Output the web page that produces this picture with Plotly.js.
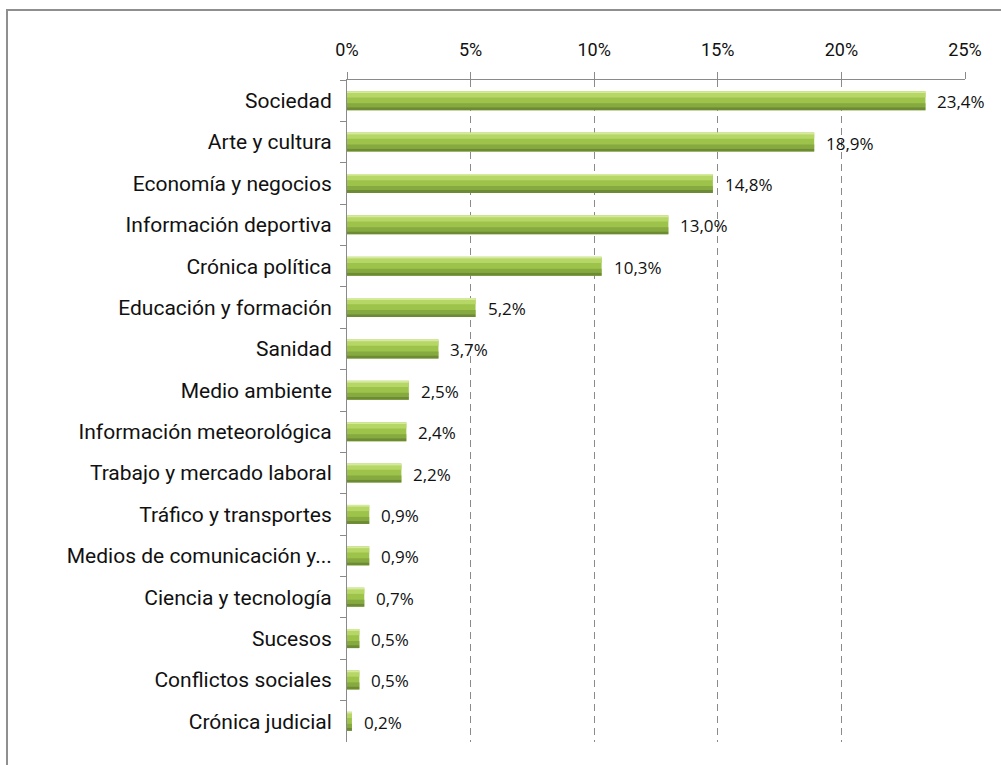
<!DOCTYPE html>
<html>
<head>
<meta charset="utf-8">
<script src="https://cdn.plot.ly/plotly-3.0.1.min.js"></script>
<style>
  html, body { margin: 0; padding: 0; width: 1001px; height: 765px; overflow: hidden; background: #fff; }
  #chart { position: absolute; left: 0; top: 0; width: 1001px; height: 765px; }
  #frame { position: absolute; left: 6px; top: 9px; width: 1100px; height: 900px; border: 2px solid #8f8f8f; pointer-events: none; }
</style>
</head>
<body>
<div id="chart"></div>
<div id="frame"></div>
<script>
const categories = [
  "Sociedad",
  "Arte y cultura",
  "Economía y negocios",
  "Información deportiva",
  "Crónica política",
  "Educación y formación",
  "Sanidad",
  "Medio ambiente",
  "Información meteorológica",
  "Trabajo y mercado laboral",
  "Tráfico y transportes",
  "Medios de comunicación y...",
  "Ciencia y tecnología",
  "Sucesos",
  "Conflictos sociales",
  "Crónica judicial"
];
const values = [23.4, 18.9, 14.8, 13.0, 10.3, 5.2, 3.7, 2.5, 2.4, 2.2, 0.9, 0.9, 0.7, 0.5, 0.5, 0.2];
const tickValues = [0, 5, 10, 15, 20, 25];
const tickLabels = ["0%", "5%", "10%", "15%", "20%", "25%"];

// gradient bands of each bar: [offset, width, colour]
const bands = [
  [-0.23, 0.46, '#9dc34b'],
  [-0.19, 0.11, '#b6d766'],
  [-0.23, 0.045, '#d5eb9b'],
  [0.06, 0.10, '#86a940'],
  [0.16, 0.07, '#6d8b35']
];
const traces = bands.map(b => ({
  type: 'bar', orientation: 'h', x: values, y: categories,
  offset: b[0], width: b[1],
  marker: { color: b[2], line: { width: 0 } },
  hoverinfo: 'skip', showlegend: false
}));

const annotations = values.map((v, i) => ({
  x: v, y: categories[i], xref: 'x', yref: 'y',
  text: v.toFixed(1).replace('.', ',') + '%',
  showarrow: false, xanchor: 'left', yanchor: 'middle', xshift: 10, yshift: -1,
  font: { family: 'Open Sans, sans-serif', size: 17, color: '#111' }
}));

const layout = {
  width: 1001, height: 765,
  margin: { l: 347, r: 36, t: 80, b: 23, pad: 0 },
  paper_bgcolor: '#fff', plot_bgcolor: '#fff',
  barmode: 'overlay',
  separators: ',.',
  font: { family: 'Roboto, sans-serif', color: '#111' },
  xaxis: {
    side: 'top', range: [0, 25], tickvals: tickValues, ticktext: tickLabels,
    showgrid: true, gridcolor: '#8a8a8a', griddash: '7px,5px', gridwidth: 1,
    showline: true, linecolor: '#8a8a8a', linewidth: 1,
    ticks: 'outside', ticklen: 7, tickcolor: '#8a8a8a',
    ticklabelstandoff: 9,
    zeroline: false, fixedrange: true,
    tickfont: { family: 'Roboto, sans-serif', size: 18, color: '#111' }
  },
  yaxis: {
    type: 'category', autorange: 'reversed',
    showline: true, linecolor: '#8a8a8a', linewidth: 1,
    ticks: 'outside', ticklen: 6, tickcolor: '#8a8a8a', tickson: 'boundaries',
    ticklabelstandoff: 10,
    showgrid: false, zeroline: false, fixedrange: true,
    tickfont: { family: 'Roboto, sans-serif', size: 21, color: '#111' }
  },
  annotations: annotations
};

Plotly.newPlot('chart', traces, layout, { staticPlot: true, displayModeBar: false });
</script>
</body>
</html>
